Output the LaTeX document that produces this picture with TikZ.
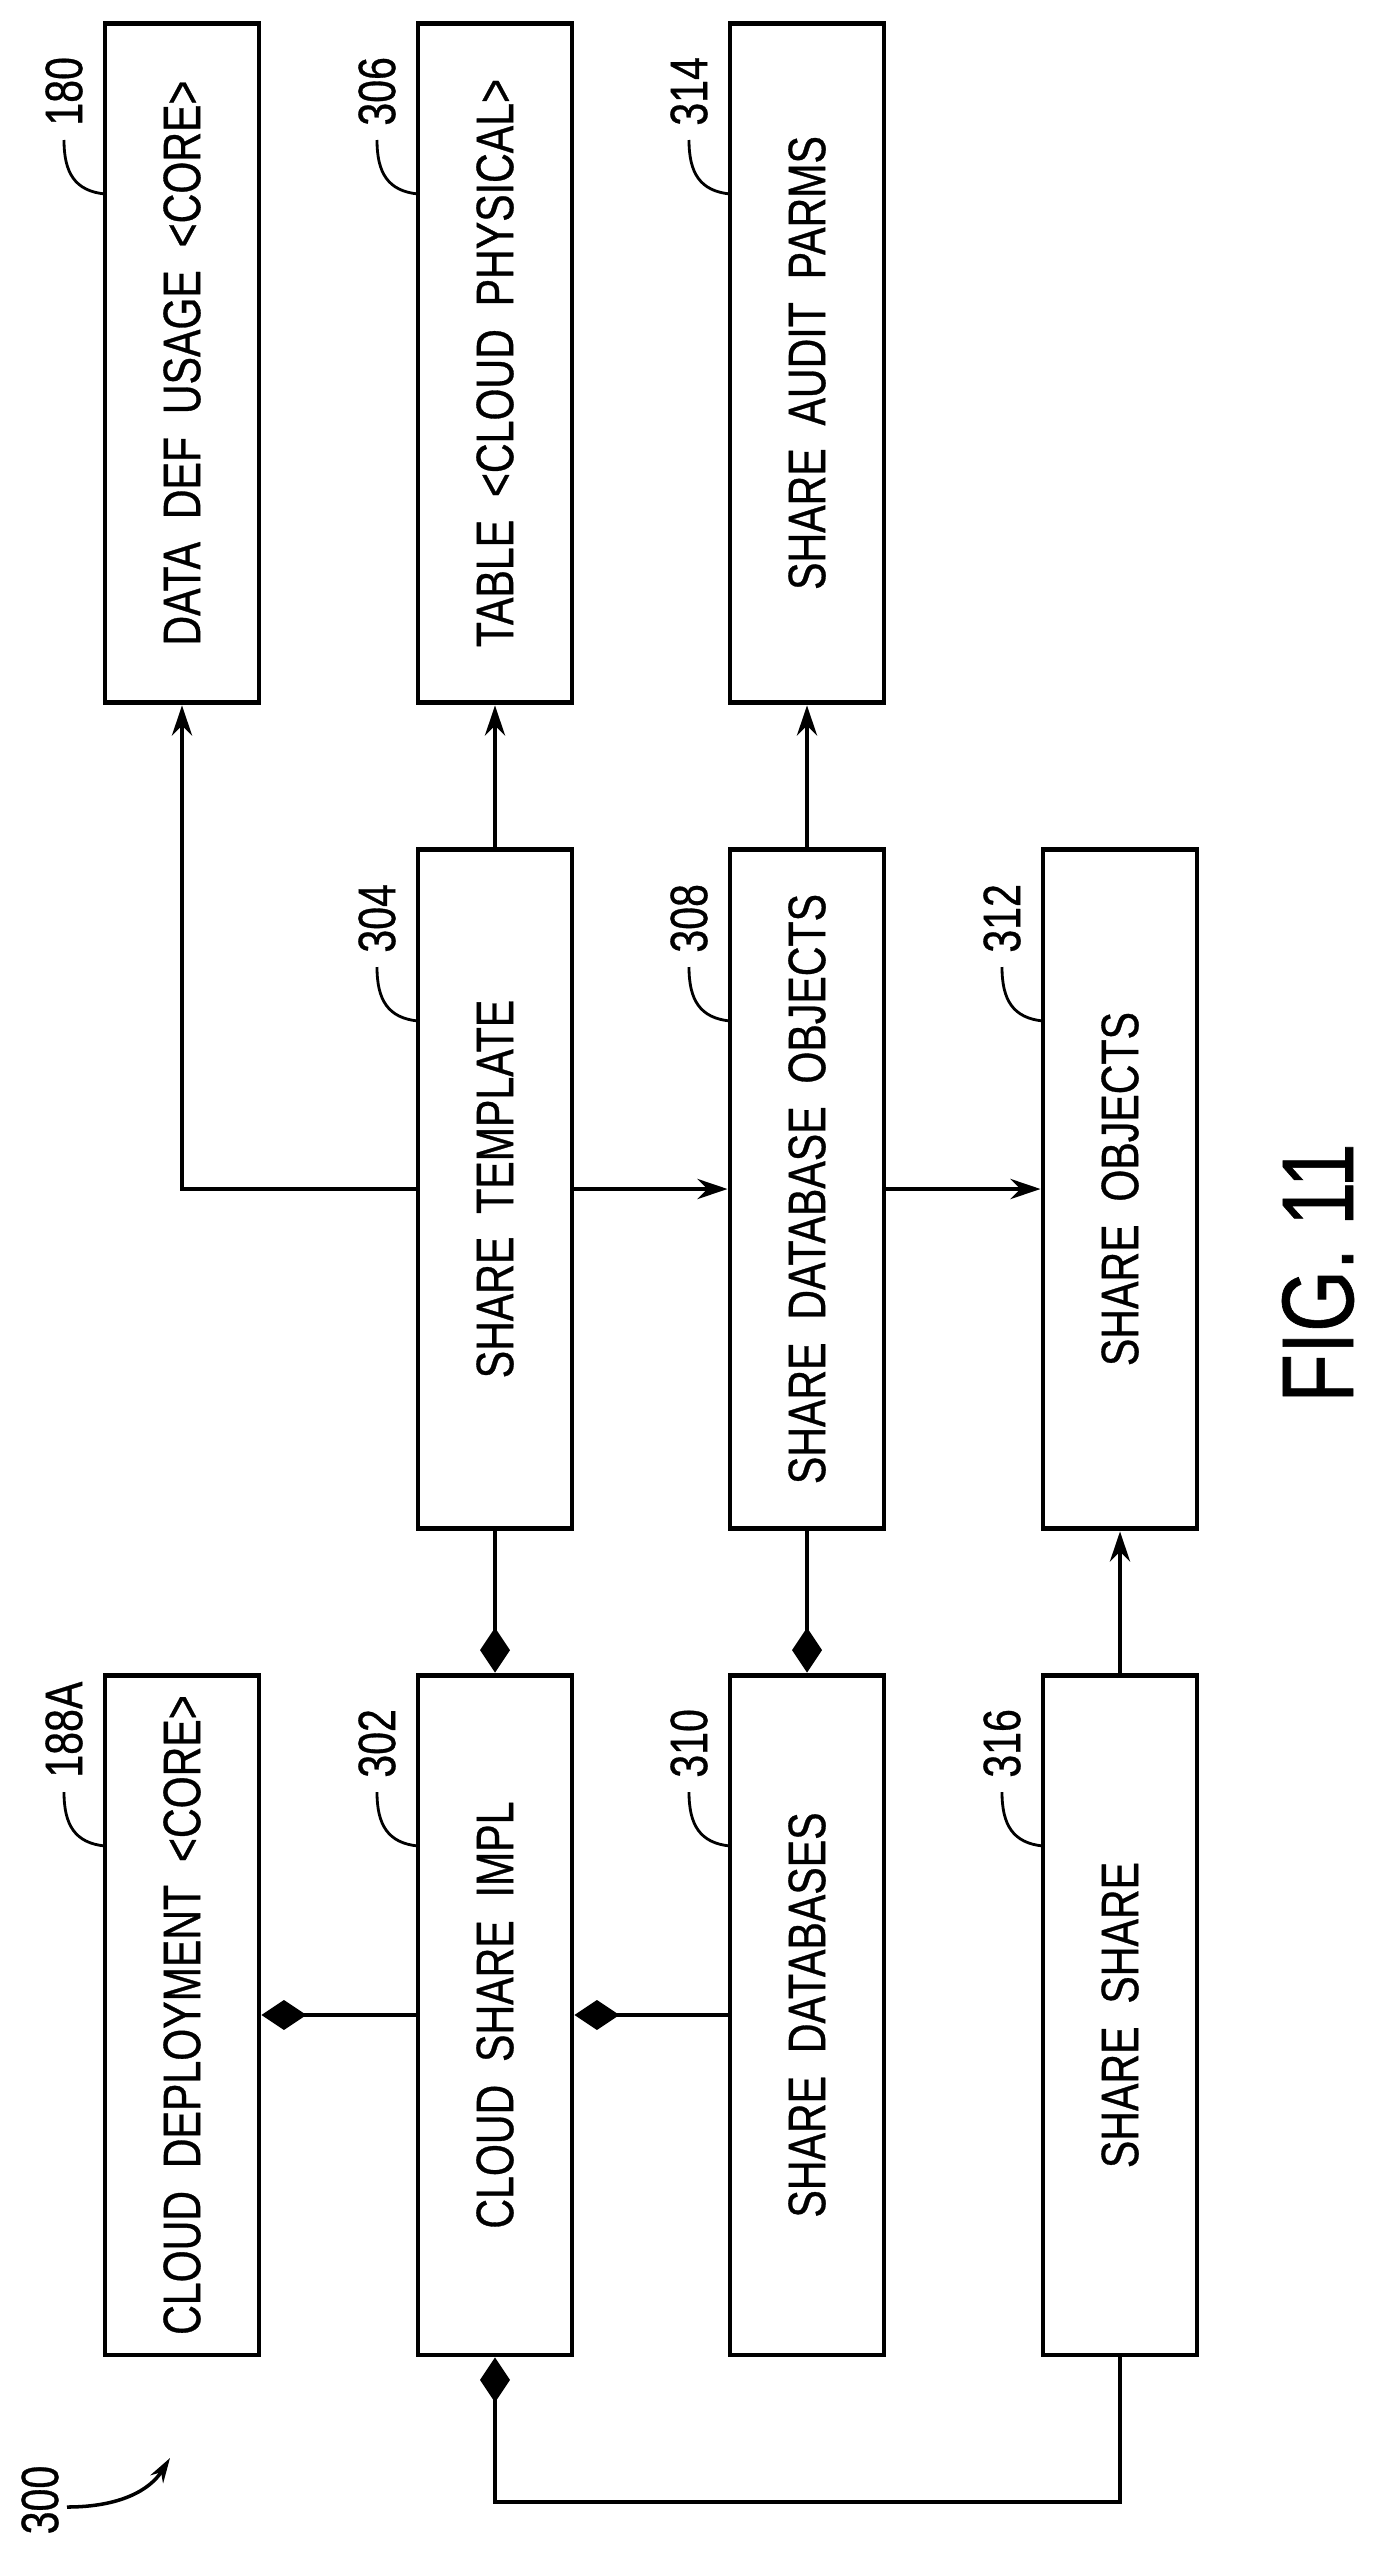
\documentclass[tikz,border=0pt]{standalone}
\usepackage{fontspec}
\setmainfont[FakeStretch=0.78, FakeBold=0.6]{Liberation Sans}
\usetikzlibrary{arrows.meta}

\tikzset{
  block/.style={draw, line width=2.8pt, rotate=90, minimum width=13.6cm, minimum height=3.08cm,
    inner sep=0pt, font=\fontsize{30}{36}\selectfont},
  refnum/.style={rotate=90, anchor=west, inner sep=0pt, font=\fontsize{30}{36}\selectfont},
  leader/.style={line width=1.6pt},
  link/.style={line width=2.6pt},
  arr/.style={link, -{Stealth[length=0.6cm, width=0.4cm]}},
  dia/.style={link, -{Diamond[length=0.9cm, width=0.6cm]}},
}

\begin{document}
\begin{tikzpicture}[x=0.02cm, y=-0.02cm]

\useasboundingbox (0,0) rectangle (1385,2559);

\node[block] (b180) at (182,363) {DATA\ \ DEF\ \ USAGE\ \ <CORE>};
\node[block] (b306) at (495,363) {TABLE\ \ <CLOUD\ \ PHYSICAL>};
\node[block] (b314) at (807,363) {SHARE\ \ AUDIT\ \ PARMS};

\node[block] (b304) at (495,1189) {SHARE\ \ TEMPLATE};
\node[block] (b308) at (807,1189) {SHARE\ \ DATABASE\ \ OBJECTS};
\node[block] (b312) at (1120,1189) {SHARE\ \ OBJECTS};

\node[block] (b188) at (182,2015) {CLOUD\ \ DEPLOYMENT\ \ <CORE>};
\node[block] (b302) at (495,2015) {CLOUD\ \ SHARE\ \ IMPL};
\node[block] (b310) at (807,2015) {SHARE\ \ DATABASES};
\node[block] (b316) at (1120,2015) {SHARE\ \ SHARE};

% reference numerals
\foreach \xl/\yt/\num in {105/23/180, 418/23/306, 730/23/314,
                          418/850/304, 730/850/308, 1043/850/312,
                          105/1675/188A, 418/1675/302, 730/1675/310, 1043/1675/316}{
  \node[refnum] (n\num) at (\xl-41,\yt+103) {\num};
  \draw[leader] (\xl-41,\yt+117) .. controls (\xl-41,\yt+150) and (\xl-30,\yt+168) .. (\xl,\yt+171);
}

% connectors
\draw[arr] (b304.north) -| (b180.west);
\draw[arr] (b304.east) -- (b306.west);
\draw[arr] (b308.east) -- (b314.west);
\draw[arr] (b304.south) -- (b308.north);
\draw[arr] (b308.south) -- (b312.north);
\draw[arr] (b316.east) -- (b312.west);

\draw[dia] (b304.west) -- (b302.east);
\draw[dia] (b308.west) -- (b310.east);
\draw[dia] (b302.north) -- (b188.south);
\draw[dia] (b310.north) -- (b302.south);

\coordinate (loop) at (1120,2502);
\draw[dia] (b316.west) -- (loop) -| (b302.west);

% figure label
\node[rotate=90, inner sep=0pt, font=\fontsize{30}{36}\selectfont] (n300) at (40,2500) {300};
\coordinate (p300) at (170,2458);
\draw[line width=2pt, -{Stealth[length=0.5cm, width=0.3cm]}] (67,2507) .. controls (120,2507) and (150,2490) .. (p300);

\node[rotate=90, inner sep=0pt, font=\fontsize{58}{64}\selectfont] (fig) at (1318,1273) {FIG.\ 11};

\end{tikzpicture}
\end{document}
